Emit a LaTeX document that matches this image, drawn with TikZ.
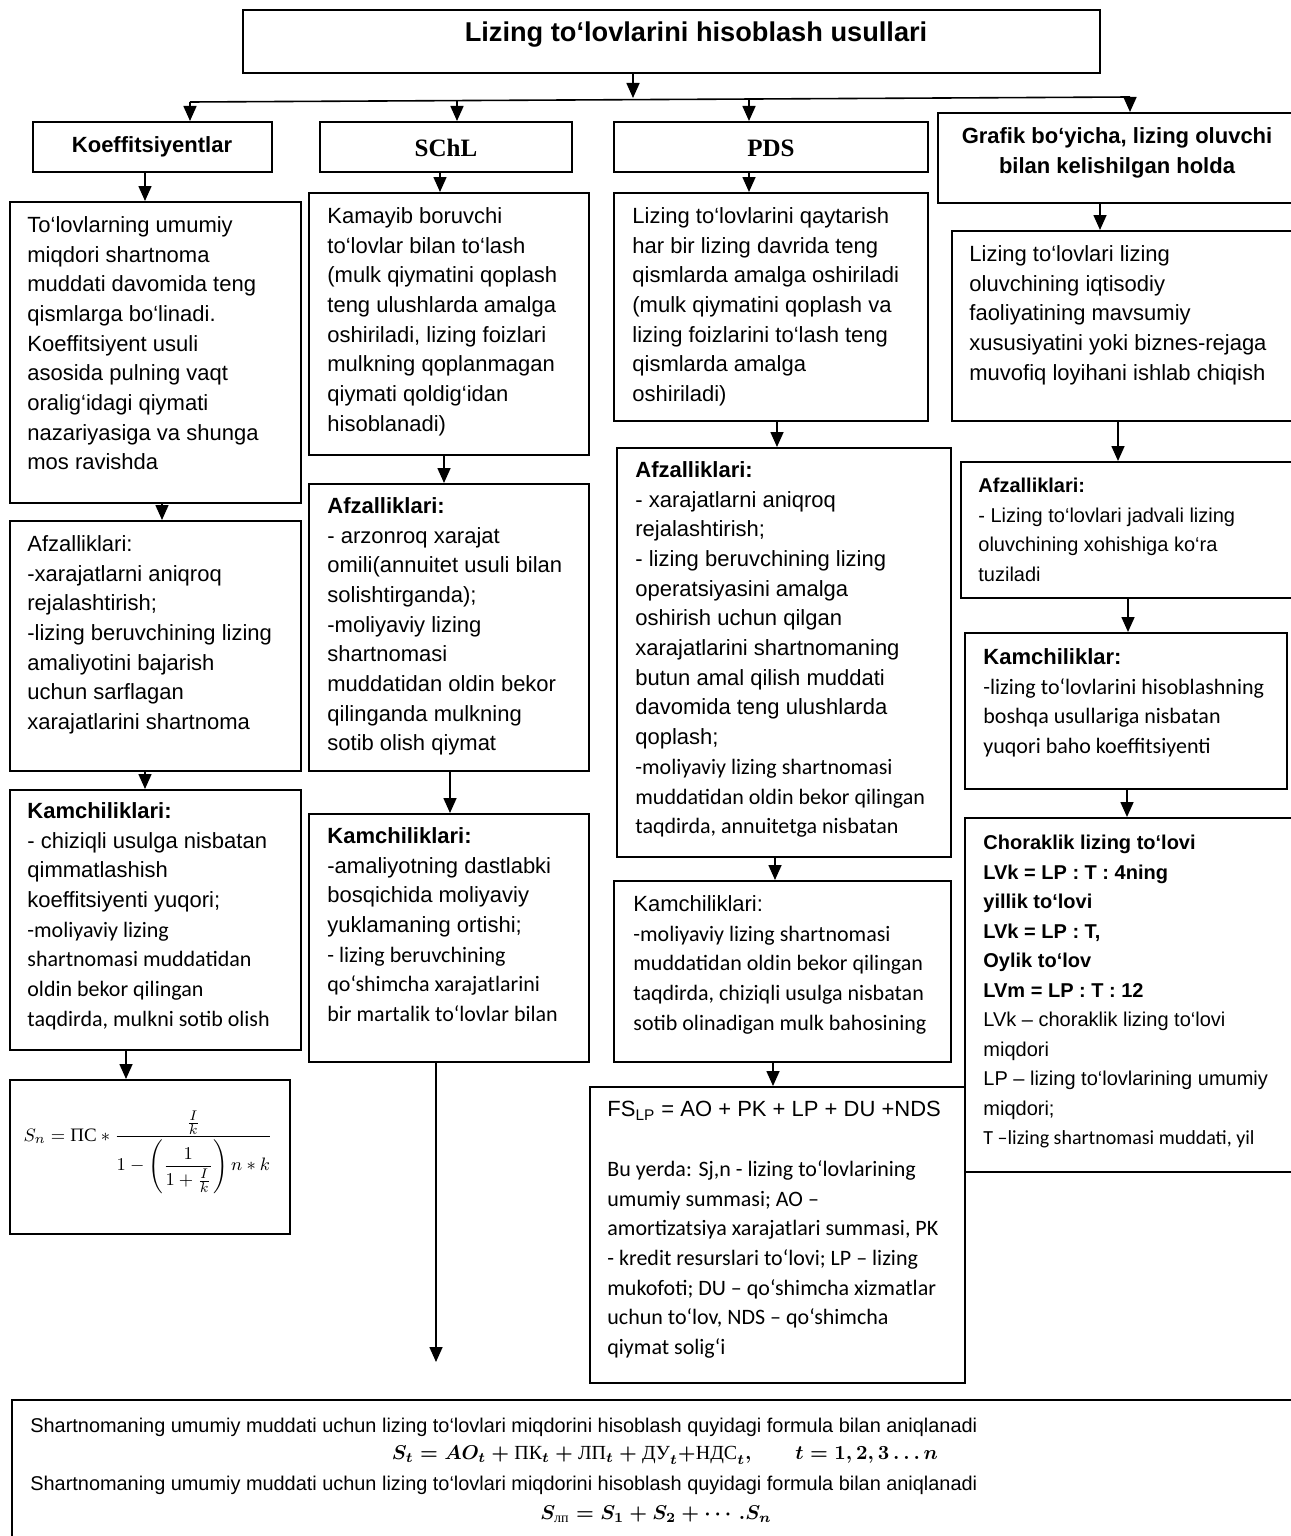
\documentclass[tikz,border=0pt]{standalone}
\usepackage{amsmath}
\usepackage[no-math]{fontspec}
\setmainfont{Liberation Sans}
\newfontfamily\calfont{Carlito}
\newfontfamily\cyrfont{Liberation Serif}
\newfontfamily\timesfont{Liberation Serif}
\usetikzlibrary{arrows.meta,positioning,fit}
\newcommand{\cl}[1]{{\calfont #1}}
\newcommand{\cy}[1]{\text{\cyrfont #1}}
\tikzset{
    %Define standard arrow tip
    >={Triangle[length=7.5pt,width=6.5pt]},
    %Define style for boxes
    frame/.style={
           draw=black,
           line width=1pt,
           inner sep=0pt},
    txt/.style={
           anchor=north west,
           inner sep=0pt,
           align=left,
           font=\fontsize{11}{14.85}\selectfont},
    txtsm/.style={
           txt,
           font=\fontsize{10}{14.75}\selectfont},
    hdr/.style={
           inner sep=0pt,
           align=center,
           font=\fontsize{11}{15}\selectfont\bfseries},
    hdrserif/.style={
           inner sep=0pt,
           font=\fontsize{12.5}{15}\selectfont\timesfont\bfseries},
    formula/.style={
           inner sep=0pt,
           font=\fontsize{10}{12}\selectfont},
    % Define arrow style
    arr/.style={
           ->,
           line width=0.8pt}
}
\begin{document}
\begin{tikzpicture}[x=0.5pt,y=-0.5pt]
\useasboundingbox (0,0) rectangle (1290,1536);

\node[frame, fit={(243,10) (1100,73)}](title){};
\node[hdr, font=\fontsize{13.6}{16}\selectfont\bfseries](titlet) at (696,35){Lizing to‘lovlarini hisoblash usullari};

\node[frame, fit={(33,122) (272,172)}](koef){};
\node[hdr](koeft) at (152,147){Koeffitsiyentlar};
\node[frame, fit={(320,122) (572,172)}](schl){};
\node[hdrserif](schlt) at (446,148){SChL};
\node[frame, fit={(614,122) (928,172)}](pds){};
\node[hdrserif](pdst) at (771,148){PDS};
\node[frame, fit={(938,113) (1295,203)}](graf){};
\node[hdr](graft) at (1117,153){Grafik bo‘yicha, lizing oluvchi\\ bilan kelishilgan holda};

\coordinate (tb) at (633,98);
\coordinate (b1) at (190,102);
\coordinate (b2) at (457,101);
\coordinate (b3) at (749,99);
\coordinate (b4) at (1130,97);

\node[frame, fit={(10,202) (301,503)}](k1){};
\node[txt](k1t) at (27,216){To‘lovlarning umumiy\\ miqdori shartnoma\\ muddati davomida teng\\ qismlarga bo‘linadi.\\ Koeffitsiyent usuli\\ asosida pulning vaqt\\ oralig‘idagi qiymati\\ nazariyasiga va shunga\\ mos ravishda};
\node[frame, fit={(10,521) (301,771)}](k2){};
\node[txt](k2t) at (27,535){Afzalliklari:\\ -xarajatlarni aniqroq\\ rejalashtirish;\\ -lizing beruvchining lizing\\ amaliyotini bajarish\\ uchun sarflagan\\ xarajatlarini shartnoma};
\node[frame, fit={(10,790) (301,1050)}](k3){};
\node[txt](k3t) at (27,802){\textbf{Kamchiliklari:}\\ - chiziqli usulga nisbatan\\ qimmatlashish\\ koeffitsiyenti yuqori;\\ \cl{-moliyaviy lizing}\\ \cl{shartnomasi muddatidan}\\ \cl{oldin bekor qilingan}\\ \cl{taqdirda, mulkni sotib olish}};
\node[frame, fit={(10,1080) (290,1234)}](k4){};
\node[formula, font=\fontsize{9.5}{11}\selectfont](k4t) at (148,1152){$S_n = \cy{ПС} * \dfrac{\frac{I}{k}}{1-\left(\dfrac{1}{1+\frac{I}{k}}\right)n*k}$};

\node[frame, fit={(309,193) (589,455)}](s1){};
\node[txt](s1t) at (327,207){Kamayib boruvchi\\ to‘lovlar bilan to‘lash\\ (mulk qiymatini qoplash\\ teng ulushlarda amalga\\ oshiriladi, lizing foizlari\\ mulkning qoplanmagan\\ qiymati qoldig‘idan\\ hisoblanadi)};
\node[frame, fit={(309,484) (589,771)}](s2){};
\node[txt](s2t) at (327,497){\textbf{Afzalliklari:}\\ - arzonroq xarajat\\ omili(annuitet usuli bilan\\ solishtirganda);\\ -moliyaviy lizing\\ shartnomasi\\ muddatidan oldin bekor\\ qilinganda mulkning\\ sotib olish qiymat};
\node[frame, fit={(309,814) (589,1062)}](s3){};
\node[txt](s3t) at (327,827){\textbf{Kamchiliklari:}\\ -amaliyotning dastlabki\\ bosqichida moliyaviy\\ yuklamaning ortishi;\\ \cl{- lizing beruvchining}\\ \cl{qo‘shimcha xarajatlarini}\\ \cl{bir martalik to‘lovlar bilan}};
\coordinate (s3end) at (436,1362);

\node[frame, fit={(614,193) (928,421)}](p1){};
\node[txt](p1t) at (632,207){Lizing to‘lovlarini qaytarish\\ har bir lizing davrida teng\\ qismlarda amalga oshiriladi\\ (mulk qiymatini qoplash va\\ lizing foizlarini to‘lash teng\\ qismlarda amalga\\ oshiriladi)};
\node[frame, fit={(617,448) (951,857)}](p2){};
\node[txt](p2t) at (635,461){\textbf{Afzalliklari:}\\ - xarajatlarni aniqroq\\ rejalashtirish;\\ - lizing beruvchining lizing\\ operatsiyasini amalga\\ oshirish uchun qilgan\\ xarajatlarini shartnomaning\\ butun amal qilish muddati\\ davomida teng ulushlarda\\ qoplash;\\ \cl{-moliyaviy lizing shartnomasi}\\ \cl{muddatidan oldin bekor qilingan}\\ \cl{taqdirda, annuitetga nisbatan}};
\node[frame, fit={(614,881) (951,1062)}](p3){};
\node[txt](p3t) at (633,895){Kamchiliklari:\\ \cl{-moliyaviy lizing shartnomasi}\\ \cl{muddatidan oldin bekor qilingan}\\ \cl{taqdirda, chiziqli usulga nisbatan}\\ \cl{sotib olinadigan mulk bahosining}};
\node[frame, fit={(590,1087) (965,1383)}](p4){};
\node[txt](p4t) at (607,1101){FS\textsubscript{LP} = AO + PK + LP + DU +NDS\\[15pt] \cl{Bu yerda: Sj,n - lizing to‘lovlarining}\\ \cl{umumiy summasi; AO –}\\ \cl{amortizatsiya xarajatlari summasi, PK}\\ \cl{- kredit resurslari to‘lovi; LP – lizing}\\ \cl{mukofoti; DU – qo‘shimcha xizmatlar}\\ \cl{uchun to‘lov, NDS – qo‘shimcha}\\ \cl{qiymat solig‘i}};

\node[frame, fit={(952,231) (1295,421)}](g1){};
\node[txt](g1t) at (969,245){Lizing to‘lovlari lizing\\ oluvchining iqtisodiy\\ faoliyatining mavsumiy\\ xususiyatini yoki biznes-rejaga\\ muvofiq loyihani ishlab chiqish};
\node[frame, fit={(961,462) (1295,598)}](g2){};
\node[txtsm](g2t) at (978,478){\textbf{Afzalliklari:}\\ - Lizing to‘lovlari jadvali lizing\\ oluvchining xohishiga ko‘ra\\ tuziladi};
\node[frame, fit={(965,633) (1287,789)}](g3){};
\node[txt](g3t) at (983,648){\textbf{Kamchiliklar:}\\ \cl{-lizing to‘lovlarini hisoblashning}\\ \cl{boshqa usullariga nisbatan}\\ \cl{yuqori baho koeffitsiyenti}};
\node[frame, fit={(965,818) (1295,1172)}](g4){};
\node[txtsm](g4t) at (983,835){\textbf{Choraklik lizing to‘lovi}\\ \textbf{LVk = LP : T : 4ning}\\ \textbf{yillik to‘lovi}\\ \textbf{LVk = LP : T,}\\ \textbf{Oylik to‘lov}\\ \textbf{LVm = LP : T : 12}\\ LVk – choraklik lizing to‘lovi\\ miqdori\\ LP – lizing to‘lovlarining umumiy\\ miqdori;\\ \cl{T –lizing shartnomasi muddati, yil}};

\node[frame, fit={(12,1400) (1295,1545)}](res){};
\node[txt, font=\fontsize{9.95}{11}\selectfont](res1) at (30,1418){Shartnomaning umumiy muddati uchun lizing to‘lovlari miqdorini hisoblash quyidagi formula bilan aniqlanadi};
\node[formula](res2) at (665,1455){$\boldsymbol{S_t = AO_t + \cy{ПК}_t + \cy{ЛП}_t + \cy{ДУ}_t {+} \cy{НДС}_t,\qquad t = 1,2,3\ldots n}$};
\node[txt, font=\fontsize{9.95}{11}\selectfont](res3) at (30,1476){Shartnomaning umumiy muddati uchun lizing to‘lovlari miqdorini hisoblash quyidagi formula bilan aniqlanadi};
\node[formula](res4) at (656,1514){$\boldsymbol{S_{\cy{лп}} = S_1 + S_2 + \cdots . S_n}$};

\draw[arr] (title.south -| tb) -- (tb);
\draw[line width=0.8pt] (b1) -- (b4);
\draw[arr] (b1) -- (koef.north -| b1);
\draw[arr] (b2) -- (schl.north -| b2);
\draw[arr] (b3) -- (pds.north -| b3);
\draw[arr] (b4) -- (graf.north -| b4);

\draw[arr] (koef.south -| 145,0) -- (k1.north -| 145,0);
\draw[arr] (k1.south -| 162,0) -- (k2.north -| 162,0);
\draw[arr] (k2.south -| 145,0) -- (k3.north -| 145,0);
\draw[arr] (k3.south -| 126,0) -- (k4.north -| 126,0);

\draw[arr] (schl.south -| 440,0) -- (s1.north -| 440,0);
\draw[arr] (s1.south -| 444,0) -- (s2.north -| 444,0);
\draw[arr] (s2.south -| 450,0) -- (s3.north -| 450,0);
\draw[arr] (s3.south -| s3end) -- (s3end);

\draw[arr] (pds.south -| 749,0) -- (p1.north -| 749,0);
\draw[arr] (p1.south -| 777,0) -- (p2.north -| 777,0);
\draw[arr] (p2.south -| 775,0) -- (p3.north -| 775,0);
\draw[arr] (p3.south -| 773,0) -- (p4.north -| 773,0);

\draw[arr] (graf.south -| 1100,0) -- (g1.north -| 1100,0);
\draw[arr] (g1.south -| 1118,0) -- (g2.north -| 1118,0);
\draw[arr] (g2.south -| 1128,0) -- (g3.north -| 1128,0);
\draw[arr] (g3.south -| 1127,0) -- (g4.north -| 1127,0);
\end{tikzpicture}
\end{document}
